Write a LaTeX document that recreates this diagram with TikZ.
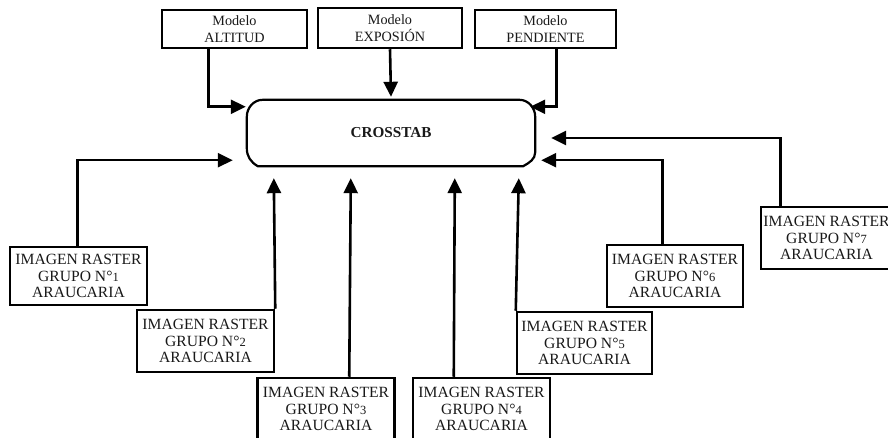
\documentclass[tikz,border=0pt]{standalone}
\usepackage{fontspec}
\setmainfont{Liberation Serif}
\usetikzlibrary{arrows.meta,calc}
\tikzset{
  box/.style={draw=black, line width=2.5pt, inner sep=0pt, align=center,
    font=\fontsize{14.2}{16.7}\selectfont, text=black!90},
  rbox/.style={box, minimum width=137pt, minimum height=62pt,
    font=\fontsize{15.6}{16.7}\selectfont},
  mbox/.style={box, minimum height=38pt},
  arr/.style={line width=2.6pt, -{Triangle[length=15pt,width=14pt]}},
  crossline/.style={line width=2.2pt, draw=black}
}
\newcommand{\nsm}[1]{N°{\fontsize{12.5}{12.5}\selectfont #1}}
\begin{document}
\begin{tikzpicture}[x=1pt,y=-1pt]
\useasboundingbox (0,0) rectangle (888,438);
\fill[white] (0,0) rectangle (888,438);
% top model boxes
\node[mbox, minimum width=145pt] (alt) at (234.5,29) {Modelo\\ALTITUD};
\node[mbox, minimum width=144pt, minimum height=40pt] (exp) at (390,28) {Modelo\\EXPOSIÓN};
\node[mbox, minimum width=141pt] (pen) at (545.5,29) {Modelo\\PENDIENTE};
% central node
\node[inner sep=0pt, minimum width=288pt, minimum height=66pt,
  font=\fontsize{15.2}{16.7}\selectfont\bfseries, text=black!90] (cross) at (391,133) {CROSSTAB};
\draw[crossline]
  ($(cross.north west)+(16,0)$) -- ($(cross.north east)+(-16,0)$)
  to[out=0,in=90] ($(cross.north east)+(0,17)$)
  -- ($(cross.south east)+(0,-14)$)
  to[out=-90,in=30] ($(cross.south east)+(-12,0)$)
  -- ($(cross.south west)+(11,0)$)
  to[out=150,in=-90] ($(cross.south west)+(0,-18)$)
  -- ($(cross.north west)+(0,17)$)
  to[out=90,in=180] ($(cross.north west)+(16,0)$);
% raster boxes
\node[rbox, minimum height=58pt] (b1) at (78.5,276) {IMAGEN RASTER\\GRUPO \nsm{1}\\ARAUCARIA};
\node[rbox] (b2) at (205.5,341) {IMAGEN RASTER\\GRUPO \nsm{2}\\ARAUCARIA};
\node[rbox] (b3) at (326,409) {IMAGEN RASTER\\GRUPO \nsm{3}\\ARAUCARIA};
\node[rbox] (b4) at (481.5,409) {IMAGEN RASTER\\GRUPO \nsm{4}\\ARAUCARIA};
\node[rbox, minimum width=135pt] (b5) at (584.5,343) {IMAGEN RASTER\\GRUPO \nsm{5}\\ARAUCARIA};
\node[rbox, minimum width=136pt] (b6) at (675,276) {IMAGEN RASTER\\GRUPO \nsm{6}\\ARAUCARIA};
\node[rbox, minimum width=131pt] (b7) at (826.5,238) {IMAGEN RASTER\\GRUPO \nsm{7}\\ARAUCARIA};
% connectors from the models
\draw[arr] ($(alt.south west)+(48,0)$) |- ($(cross.north west)+(-1,7)$);
\draw[arr] (exp.south) -- ($(cross.north)+(0,-3)$);
\draw[arr] ($(pen.south west)+(83,0)$) |- ($(cross.north east)+(-5,7)$);
% connectors from the raster images
\draw[arr] ($(b1.north west)+(69,0)$) |- ($(cross.south west)+(-14,-6)$);
\draw[arr] (b2.north east) -- ($(cross.south west)+(27,12)$);
\draw[arr] ($(b3.north west)+(93,0)$) -- ($(cross.south west)+(104,12)$);
\draw[arr] ($(b4.north west)+(42,0)$) -- ($(cross.south west)+(208,12)$);
\draw[arr] (b5.north west) -- ($(cross.south west)+(272,12)$);
\draw[arr] ($(b6.north west)+(57,0)$) |- ($(cross.south east)+(6,-6)$);
\draw[arr] ($(b7.north west)+(21,0)$) |- ($(cross.east)+(16,5)$);
\end{tikzpicture}
\end{document}
